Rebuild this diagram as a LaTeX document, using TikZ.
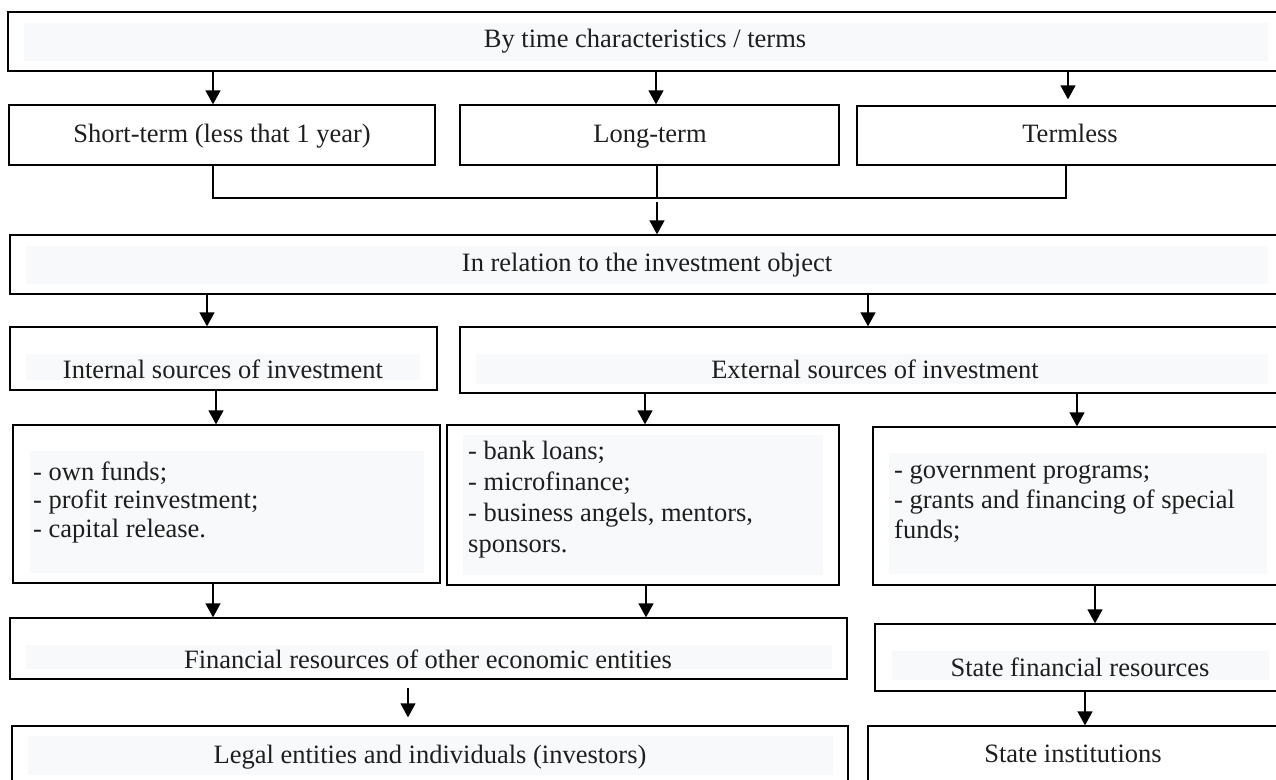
\documentclass[tikz,border=0pt]{standalone}
\usepackage{fontspec}
\setmainfont{Liberation Serif}
\usetikzlibrary{arrows.meta}

\definecolor{paleg}{RGB}{248,249,250}
\definecolor{ink}{RGB}{30,30,30}
\newcommand{\blk}[5]{\node[frame,minimum width={(#4-#2)*1pt},minimum height={(#5-#3)*1pt}] (#1) at ({(#2+#4)/2},{(#3+#5)/2}) {};}
\newcommand{\shd}[4]{\fill[paleg] (#1,#2) rectangle (#3,#4);}

\begin{document}
\begin{tikzpicture}[x=1pt,y=-1pt,
	frame/.style={draw,line width=1.3pt,inner sep=0pt},
	lbl/.style={anchor=base,inner sep=0pt,text=ink,font=\fontsize{26.5}{30}\selectfont},
	lst/.style={anchor=base west,align=left,inner sep=0pt,text=ink,font=\fontsize{26.5}{30}\selectfont},
	arr/.style={line width=1.3pt,-{Triangle[length=14pt,width=15pt]}},
	con/.style={line width=1.3pt}]
	\useasboundingbox (0,0) rectangle (1276,779);
	\clip (0,0) rectangle (1276,779);

	%pale panels behind the texts
	\shd{24}{23}{1268}{61}
	\shd{26}{246}{1268}{284}
	\shd{26}{354}{420}{380}
	\shd{476}{354}{1268}{384}
	\shd{30}{451}{424}{573}
	\shd{463}{435}{823}{575}
	\shd{889}{453}{1267}{574}
	\shd{26}{645}{832}{669}
	\shd{892}{651}{1269}{680}
	\shd{28}{736}{833}{775}

	%all frames
	\blk{top}{8}{12}{1290}{71}
	\blk{st}{9}{105}{435}{165}
	\blk{lt}{460}{105}{839}{165}
	\blk{tl}{857}{106}{1290}{165}
	\blk{rel}{10}{235}{1290}{294}
	\blk{int}{10}{327}{437}{390}
	\blk{ext}{460}{327}{1290}{393}
	\blk{own}{13}{425}{440}{583}
	\blk{bank}{447}{425}{839}{585}
	\blk{gov}{873}{427}{1290}{585}
	\blk{fin}{10}{618}{847}{679}
	\blk{sfr}{875}{624}{1290}{691}
	\blk{leg}{12}{726}{848}{800}
	\blk{si}{868}{726}{1290}{800}

	%texts (lists anchored at their last line)
	\node[lbl] (ttop) at (645,47) {By time characteristics / terms};
	\node[lbl] (tst) at (222,142) {Short-term (less that 1 year)};
	\node[lbl] (tlt) at (650,142) {Long-term};
	\node[lbl] (ttl) at (1070,142) {Termless};
	\node[lbl] (trel) at (647,271) {In relation to the investment object};
	\node[lbl] (tint) at (223,378) {Internal sources of investment};
	\node[lbl] (text) at (875,378) {External sources of investment};
	\node[lst,font=\fontsize{26.5}{28.5}\selectfont] (town) at (33,537) {- own funds;\\- profit reinvestment;\\- capital release.};
	\node[lst,font=\fontsize{26.5}{31}\selectfont] (tbank) at (468,552) {- bank loans;\\- microfinance;\\- business angels, mentors,\\sponsors.};
	\node[lst] (tgov) at (894,538) {- government programs;\\- grants and financing of special\\funds;};
	\node[lbl] (tfin) at (428,668) {Financial resources of other economic entities};
	\node[lbl] (tsfr) at (1080,676) {State financial resources};
	\node[lbl] (tleg) at (430,763) {Legal entities and individuals (investors)};
	\node[lbl] (tsi) at (1073,762) {State institutions};

	%draw arrows
	\foreach \a/\b/\x in {top/st/213,top/lt/656,rel/int/207,rel/ext/868,int/own/216,ext/bank/645,ext/gov/1077,own/fin/213,bank/fin/646,gov/sfr/1095,sfr/si/1085}{
		\coordinate (k) at (\x,0);
		\draw[arr] (\a.south -| k) -- (\b.north -| k);
	}
	\coordinate (k) at (1068,0);
	\draw[arr,shorten >=6pt] (top.south -| k) -- (tl.north -| k);
	\coordinate (k) at (408,0);
	\draw[arr,shorten <=8pt,shorten >=8pt] (fin.south -| k) -- (leg.north -| k);

	%join the three terms
	\coordinate (jn) at (657,198);
	\coordinate (kl) at (213,0);
	\coordinate (kr) at (1066,0);
	\draw[con] (st.south -| kl) |- (jn) -| (tl.south -| kr);
	\draw[con] (lt.south -| jn) -- (jn);
	\draw[arr,shorten <=4pt] (jn) -- (rel.north -| jn);
\end{tikzpicture}
\end{document}
